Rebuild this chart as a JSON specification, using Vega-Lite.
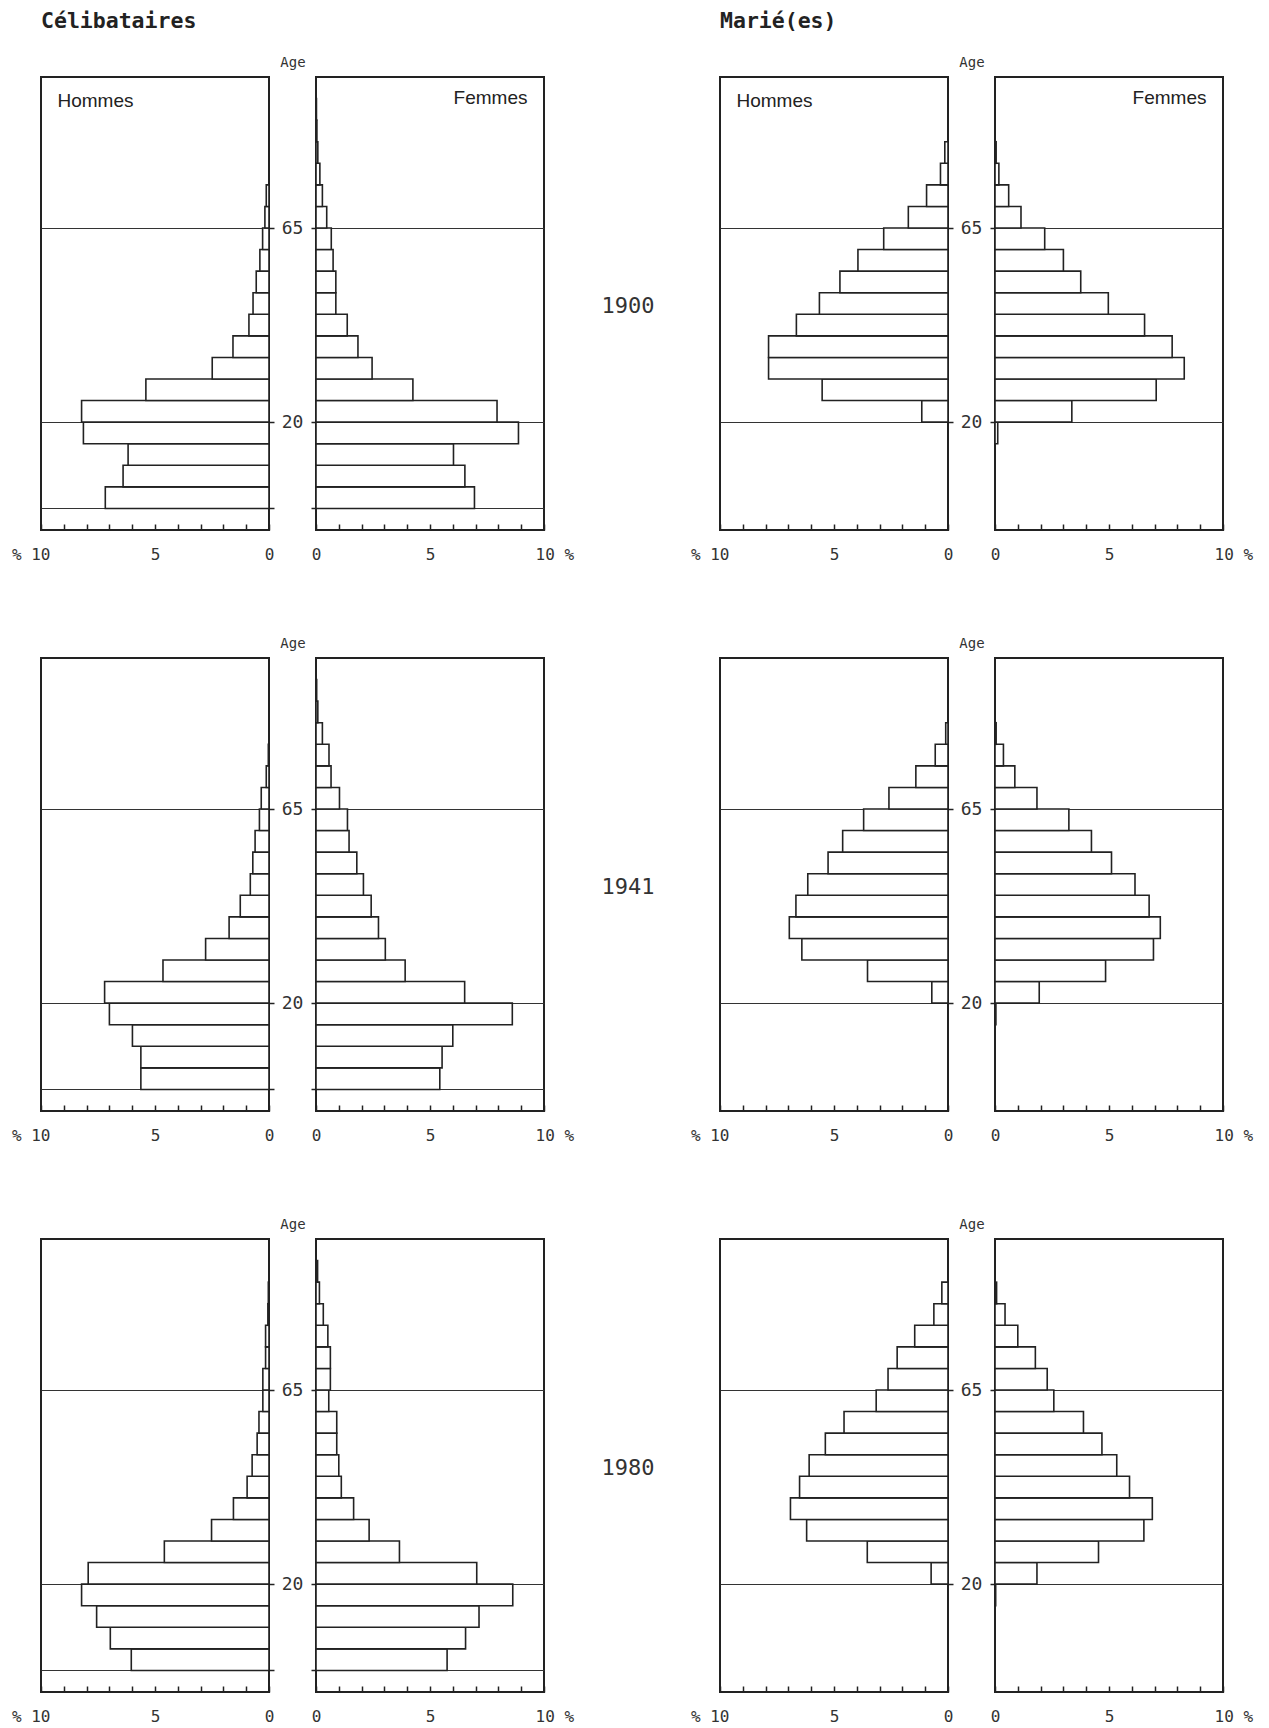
{
  "$schema": "https://vega.github.io/schema/vega-lite/v6.json",
  "background": "white",
  "padding": {"left": 10, "top": 9, "right": 5, "bottom": 5},
  "datasets": {
    "C1900H": [{"age":0,"age_end":5,"pct":7.18},{"age":5,"age_end":10,"pct":6.40},{"age":10,"age_end":15,"pct":6.18},{"age":15,"age_end":20,"pct":8.14},{"age":20,"age_end":25,"pct":8.22},{"age":25,"age_end":30,"pct":5.40},{"age":30,"age_end":35,"pct":2.49},{"age":35,"age_end":40,"pct":1.58},{"age":40,"age_end":45,"pct":0.88},{"age":45,"age_end":50,"pct":0.70},{"age":50,"age_end":55,"pct":0.56},{"age":55,"age_end":60,"pct":0.40},{"age":60,"age_end":65,"pct":0.28},{"age":65,"age_end":70,"pct":0.18},{"age":70,"age_end":75,"pct":0.12}],
    "C1900F": [{"age":0,"age_end":5,"pct":6.95},{"age":5,"age_end":10,"pct":6.53},{"age":10,"age_end":15,"pct":6.03},{"age":15,"age_end":20,"pct":8.88},{"age":20,"age_end":25,"pct":7.94},{"age":25,"age_end":30,"pct":4.25},{"age":30,"age_end":35,"pct":2.46},{"age":35,"age_end":40,"pct":1.84},{"age":40,"age_end":45,"pct":1.37},{"age":45,"age_end":50,"pct":0.87},{"age":50,"age_end":55,"pct":0.87},{"age":55,"age_end":60,"pct":0.75},{"age":60,"age_end":65,"pct":0.67},{"age":65,"age_end":70,"pct":0.47},{"age":70,"age_end":75,"pct":0.28},{"age":75,"age_end":80,"pct":0.17},{"age":80,"age_end":85,"pct":0.08},{"age":85,"age_end":90,"pct":0.04},{"age":90,"age_end":95,"pct":0.02}],
    "M1900H": [{"age":20,"age_end":25,"pct":1.15},{"age":25,"age_end":30,"pct":5.52},{"age":30,"age_end":35,"pct":7.87},{"age":35,"age_end":40,"pct":7.87},{"age":40,"age_end":45,"pct":6.65},{"age":45,"age_end":50,"pct":5.64},{"age":50,"age_end":55,"pct":4.74},{"age":55,"age_end":60,"pct":3.95},{"age":60,"age_end":65,"pct":2.82},{"age":65,"age_end":70,"pct":1.74},{"age":70,"age_end":75,"pct":0.94},{"age":75,"age_end":80,"pct":0.33},{"age":80,"age_end":85,"pct":0.14}],
    "M1900F": [{"age":15,"age_end":20,"pct":0.12},{"age":20,"age_end":25,"pct":3.37},{"age":25,"age_end":30,"pct":7.07},{"age":30,"age_end":35,"pct":8.30},{"age":35,"age_end":40,"pct":7.77},{"age":40,"age_end":45,"pct":6.56},{"age":45,"age_end":50,"pct":4.97},{"age":50,"age_end":55,"pct":3.76},{"age":55,"age_end":60,"pct":3.00},{"age":60,"age_end":65,"pct":2.18},{"age":65,"age_end":70,"pct":1.14},{"age":70,"age_end":75,"pct":0.60},{"age":75,"age_end":80,"pct":0.17},{"age":80,"age_end":85,"pct":0.05}],
    "C1941H": [{"age":0,"age_end":5,"pct":5.62},{"age":5,"age_end":10,"pct":5.62},{"age":10,"age_end":15,"pct":5.99},{"age":15,"age_end":20,"pct":7.00},{"age":20,"age_end":25,"pct":7.21},{"age":25,"age_end":30,"pct":4.65},{"age":30,"age_end":35,"pct":2.78},{"age":35,"age_end":40,"pct":1.75},{"age":40,"age_end":45,"pct":1.26},{"age":45,"age_end":50,"pct":0.82},{"age":50,"age_end":55,"pct":0.71},{"age":55,"age_end":60,"pct":0.61},{"age":60,"age_end":65,"pct":0.42},{"age":65,"age_end":70,"pct":0.34},{"age":70,"age_end":75,"pct":0.12},{"age":75,"age_end":80,"pct":0.03}],
    "C1941F": [{"age":0,"age_end":5,"pct":5.43},{"age":5,"age_end":10,"pct":5.53},{"age":10,"age_end":15,"pct":6.00},{"age":15,"age_end":20,"pct":8.61},{"age":20,"age_end":25,"pct":6.52},{"age":25,"age_end":30,"pct":3.91},{"age":30,"age_end":35,"pct":3.04},{"age":35,"age_end":40,"pct":2.74},{"age":40,"age_end":45,"pct":2.42},{"age":45,"age_end":50,"pct":2.08},{"age":50,"age_end":55,"pct":1.79},{"age":55,"age_end":60,"pct":1.45},{"age":60,"age_end":65,"pct":1.38},{"age":65,"age_end":70,"pct":1.03},{"age":70,"age_end":75,"pct":0.66},{"age":75,"age_end":80,"pct":0.57},{"age":80,"age_end":85,"pct":0.28},{"age":85,"age_end":90,"pct":0.08},{"age":90,"age_end":95,"pct":0.03}],
    "M1941H": [{"age":20,"age_end":25,"pct":0.71},{"age":25,"age_end":30,"pct":3.53},{"age":30,"age_end":35,"pct":6.41},{"age":35,"age_end":40,"pct":6.96},{"age":40,"age_end":45,"pct":6.67},{"age":45,"age_end":50,"pct":6.15},{"age":50,"age_end":55,"pct":5.26},{"age":55,"age_end":60,"pct":4.62},{"age":60,"age_end":65,"pct":3.70},{"age":65,"age_end":70,"pct":2.59},{"age":70,"age_end":75,"pct":1.41},{"age":75,"age_end":80,"pct":0.56},{"age":80,"age_end":85,"pct":0.10}],
    "M1941F": [{"age":15,"age_end":20,"pct":0.04},{"age":20,"age_end":25,"pct":1.94},{"age":25,"age_end":30,"pct":4.85},{"age":30,"age_end":35,"pct":6.95},{"age":35,"age_end":40,"pct":7.25},{"age":40,"age_end":45,"pct":6.76},{"age":45,"age_end":50,"pct":6.14},{"age":50,"age_end":55,"pct":5.11},{"age":55,"age_end":60,"pct":4.23},{"age":60,"age_end":65,"pct":3.24},{"age":65,"age_end":70,"pct":1.84},{"age":70,"age_end":75,"pct":0.87},{"age":75,"age_end":80,"pct":0.37},{"age":80,"age_end":85,"pct":0.05}],
    "C1980H": [{"age":0,"age_end":5,"pct":6.04},{"age":5,"age_end":10,"pct":6.96},{"age":10,"age_end":15,"pct":7.56},{"age":15,"age_end":20,"pct":8.22},{"age":20,"age_end":25,"pct":7.93},{"age":25,"age_end":30,"pct":4.59},{"age":30,"age_end":35,"pct":2.52},{"age":35,"age_end":40,"pct":1.56},{"age":40,"age_end":45,"pct":0.96},{"age":45,"age_end":50,"pct":0.74},{"age":50,"age_end":55,"pct":0.52},{"age":55,"age_end":60,"pct":0.44},{"age":60,"age_end":65,"pct":0.27},{"age":65,"age_end":70,"pct":0.27},{"age":70,"age_end":75,"pct":0.15},{"age":75,"age_end":80,"pct":0.15},{"age":80,"age_end":85,"pct":0.05},{"age":85,"age_end":90,"pct":0.03}],
    "C1980F": [{"age":0,"age_end":5,"pct":5.75},{"age":5,"age_end":10,"pct":6.56},{"age":10,"age_end":15,"pct":7.15},{"age":15,"age_end":20,"pct":8.63},{"age":20,"age_end":25,"pct":7.05},{"age":25,"age_end":30,"pct":3.66},{"age":30,"age_end":35,"pct":2.33},{"age":35,"age_end":40,"pct":1.65},{"age":40,"age_end":45,"pct":1.11},{"age":45,"age_end":50,"pct":1.00},{"age":50,"age_end":55,"pct":0.91},{"age":55,"age_end":60,"pct":0.91},{"age":60,"age_end":65,"pct":0.56},{"age":65,"age_end":70,"pct":0.63},{"age":70,"age_end":75,"pct":0.63},{"age":75,"age_end":80,"pct":0.52},{"age":80,"age_end":85,"pct":0.32},{"age":85,"age_end":90,"pct":0.15},{"age":90,"age_end":95,"pct":0.07}],
    "M1980H": [{"age":20,"age_end":25,"pct":0.74},{"age":25,"age_end":30,"pct":3.54},{"age":30,"age_end":35,"pct":6.20},{"age":35,"age_end":40,"pct":6.91},{"age":40,"age_end":45,"pct":6.51},{"age":45,"age_end":50,"pct":6.09},{"age":50,"age_end":55,"pct":5.38},{"age":55,"age_end":60,"pct":4.56},{"age":60,"age_end":65,"pct":3.15},{"age":65,"age_end":70,"pct":2.63},{"age":70,"age_end":75,"pct":2.23},{"age":75,"age_end":80,"pct":1.46},{"age":80,"age_end":85,"pct":0.62},{"age":85,"age_end":90,"pct":0.27}],
    "M1980F": [{"age":15,"age_end":20,"pct":0.03},{"age":20,"age_end":25,"pct":1.84},{"age":25,"age_end":30,"pct":4.54},{"age":30,"age_end":35,"pct":6.53},{"age":35,"age_end":40,"pct":6.90},{"age":40,"age_end":45,"pct":5.90},{"age":45,"age_end":50,"pct":5.34},{"age":50,"age_end":55,"pct":4.69},{"age":55,"age_end":60,"pct":3.88},{"age":60,"age_end":65,"pct":2.58},{"age":65,"age_end":70,"pct":2.29},{"age":70,"age_end":75,"pct":1.77},{"age":75,"age_end":80,"pct":1.00},{"age":80,"age_end":85,"pct":0.44},{"age":85,"age_end":90,"pct":0.07}]
  },
  "concat": [
    {
      "width": 228, "height": 453,
      "data": {"name": "C1900H"},
      "title": {"text": "Célibataires", "anchor": "start", "frame": "group", "font": "DejaVu Sans Mono", "fontSize": 21.5, "fontWeight": "bold", "color": "#222", "baseline": "alphabetic", "offset": 28},
      "resolve": {"axis": {"x": "independent"}},
      "layer": [
        {
          "mark": {"type": "rect", "fill": "white", "stroke": "#222", "strokeWidth": 1.6},
          "encoding": {
            "y": {"field": "age", "type": "quantitative", "scale": {"domain": [-5, 100], "nice": false, "zero": false}, "axis": {"orient": "right", "values": [0, 20, 65], "grid": true, "tickSize": 5, "labelExpr": "datum.value == 0 ? '' : datum.label", "labelAlign": "center", "labelPadding": 18, "labelFontSize": 18, "title": null}},
            "y2": {"field": "age_end"},
            "x": {"field": "pct", "type": "quantitative", "scale": {"domain": [0, 10], "reverse": true, "nice": false}, "axis": {"orient": "bottom", "values": [0,1,2,3,4,5,6,7,8,9,10], "tickSize": -6, "labelExpr": "datum.value == 10 ? '% 10' : (datum.value == 5 || datum.value == 0) ? datum.label : ''", "labelAlign": {"condition": {"test": "datum.value == 10", "value": "right"}, "value": "center"}, "labelOffset": {"condition": {"test": "datum.value == 10", "value": 9}, "value": 0}, "labelPadding": 22, "title": null}},
            "x2": {"datum": 0}
          }
        },
        {
          "mark": {"type": "rule", "opacity": 0},
          "encoding": {"x": {"datum": 0, "type": "quantitative", "axis": {"orient": "top", "ticks": false, "labels": false, "title": "Hommes", "titleX": 16, "titleY": 23, "titleAlign": "left", "titleBaseline": "middle", "titleAngle": 0, "titleFont": "Liberation Sans", "titleFontSize": 19, "titleColor": "#222"}}}
        }
      ]
    },
    {
      "width": 228, "height": 453,
      "data": {"name": "C1900F"},
      "resolve": {"axis": {"x": "independent"}},
      "layer": [
        {
          "mark": {"type": "rect", "fill": "white", "stroke": "#222", "strokeWidth": 1.6},
          "encoding": {
            "y": {"field": "age", "type": "quantitative", "scale": {"domain": [-5, 100], "nice": false, "zero": false}, "axis": {"orient": "left", "values": [0, 20, 65], "grid": true, "tickSize": 5, "labels": false, "title": "Age", "titleAngle": 0, "titleX": -23.5, "titleY": -11, "titleAlign": "center", "titleBaseline": "alphabetic", "titleFontSize": 14}},
            "y2": {"field": "age_end"},
            "x": {"field": "pct", "type": "quantitative", "scale": {"domain": [0, 10], "nice": false}, "axis": {"orient": "bottom", "values": [0,1,2,3,4,5,6,7,8,9,10], "tickSize": -6, "labelExpr": "datum.value == 10 ? '10 %' : (datum.value == 5 || datum.value == 0) ? datum.label : ''", "labelAlign": {"condition": {"test": "datum.value == 10", "value": "left"}, "value": "center"}, "labelOffset": {"condition": {"test": "datum.value == 10", "value": -9}, "value": 0}, "labelPadding": 22, "title": null}},
            "x2": {"datum": 0}
          }
        },
        {
          "mark": {"type": "rule", "opacity": 0},
          "encoding": {"x": {"datum": 0, "type": "quantitative", "axis": {"orient": "top", "ticks": false, "labels": false, "title": "Femmes", "titleX": 211, "titleY": 20, "titleAlign": "right", "titleBaseline": "middle", "titleAngle": 0, "titleFont": "Liberation Sans", "titleFontSize": 19, "titleColor": "#222"}}}
        }
      ]
    },
    {
      "width": 82, "height": 453,
      "view": {"stroke": null},
      "data": {"values": [{"year": "1900"}]},
      "mark": {"type": "text", "font": "DejaVu Sans Mono", "fontSize": 22, "color": "#333", "dx": -4, "dy": 2},
      "encoding": {"text": {"field": "year"}}
    },
    {
      "width": 228, "height": 453,
      "data": {"name": "M1900H"},
      "title": {"text": "Marié(es)", "anchor": "start", "frame": "group", "font": "DejaVu Sans Mono", "fontSize": 21.5, "fontWeight": "bold", "color": "#222", "baseline": "alphabetic", "offset": 28},
      "resolve": {"axis": {"x": "independent"}},
      "layer": [
        {
          "mark": {"type": "rect", "fill": "white", "stroke": "#222", "strokeWidth": 1.6},
          "encoding": {
            "y": {"field": "age", "type": "quantitative", "scale": {"domain": [-5, 100], "nice": false, "zero": false}, "axis": {"orient": "right", "values": [20, 65], "grid": true, "tickSize": 5, "labelAlign": "center", "labelPadding": 18, "labelFontSize": 18, "title": null}},
            "y2": {"field": "age_end"},
            "x": {"field": "pct", "type": "quantitative", "scale": {"domain": [0, 10], "reverse": true, "nice": false}, "axis": {"orient": "bottom", "values": [0,1,2,3,4,5,6,7,8,9,10], "tickSize": -6, "labelExpr": "datum.value == 10 ? '% 10' : (datum.value == 5 || datum.value == 0) ? datum.label : ''", "labelAlign": {"condition": {"test": "datum.value == 10", "value": "right"}, "value": "center"}, "labelOffset": {"condition": {"test": "datum.value == 10", "value": 9}, "value": 0}, "labelPadding": 22, "title": null}},
            "x2": {"datum": 0}
          }
        },
        {
          "mark": {"type": "rule", "opacity": 0},
          "encoding": {"x": {"datum": 0, "type": "quantitative", "axis": {"orient": "top", "ticks": false, "labels": false, "title": "Hommes", "titleX": 16, "titleY": 23, "titleAlign": "left", "titleBaseline": "middle", "titleAngle": 0, "titleFont": "Liberation Sans", "titleFontSize": 19, "titleColor": "#222"}}}
        }
      ]
    },
    {
      "width": 228, "height": 453,
      "data": {"name": "M1900F"},
      "resolve": {"axis": {"x": "independent"}},
      "layer": [
        {
          "mark": {"type": "rect", "fill": "white", "stroke": "#222", "strokeWidth": 1.6},
          "encoding": {
            "y": {"field": "age", "type": "quantitative", "scale": {"domain": [-5, 100], "nice": false, "zero": false}, "axis": {"orient": "left", "values": [20, 65], "grid": true, "tickSize": 5, "labels": false, "title": "Age", "titleAngle": 0, "titleX": -23.5, "titleY": -11, "titleAlign": "center", "titleBaseline": "alphabetic", "titleFontSize": 14}},
            "y2": {"field": "age_end"},
            "x": {"field": "pct", "type": "quantitative", "scale": {"domain": [0, 10], "nice": false}, "axis": {"orient": "bottom", "values": [0,1,2,3,4,5,6,7,8,9,10], "tickSize": -6, "labelExpr": "datum.value == 10 ? '10 %' : (datum.value == 5 || datum.value == 0) ? datum.label : ''", "labelAlign": {"condition": {"test": "datum.value == 10", "value": "left"}, "value": "center"}, "labelOffset": {"condition": {"test": "datum.value == 10", "value": -9}, "value": 0}, "labelPadding": 22, "title": null}},
            "x2": {"datum": 0}
          }
        },
        {
          "mark": {"type": "rule", "opacity": 0},
          "encoding": {"x": {"datum": 0, "type": "quantitative", "axis": {"orient": "top", "ticks": false, "labels": false, "title": "Femmes", "titleX": 211, "titleY": 20, "titleAlign": "right", "titleBaseline": "middle", "titleAngle": 0, "titleFont": "Liberation Sans", "titleFontSize": 19, "titleColor": "#222"}}}
        }
      ]
    },
    {
      "width": 228, "height": 453,
      "data": {"name": "C1941H"},
      "mark": {"type": "rect", "fill": "white", "stroke": "#222", "strokeWidth": 1.6},
      "encoding": {
        "y": {"field": "age", "type": "quantitative", "scale": {"domain": [-5, 100], "nice": false, "zero": false}, "axis": {"orient": "right", "values": [0, 20, 65], "grid": true, "tickSize": 5, "labelExpr": "datum.value == 0 ? '' : datum.label", "labelAlign": "center", "labelPadding": 18, "labelFontSize": 18, "title": null}},
        "y2": {"field": "age_end"},
        "x": {"field": "pct", "type": "quantitative", "scale": {"domain": [0, 10], "reverse": true, "nice": false}, "axis": {"orient": "bottom", "values": [0,1,2,3,4,5,6,7,8,9,10], "tickSize": -6, "labelExpr": "datum.value == 10 ? '% 10' : (datum.value == 5 || datum.value == 0) ? datum.label : ''", "labelAlign": {"condition": {"test": "datum.value == 10", "value": "right"}, "value": "center"}, "labelOffset": {"condition": {"test": "datum.value == 10", "value": 9}, "value": 0}, "labelPadding": 22, "title": null}},
        "x2": {"datum": 0}
      }
    },
    {
      "width": 228, "height": 453,
      "data": {"name": "C1941F"},
      "mark": {"type": "rect", "fill": "white", "stroke": "#222", "strokeWidth": 1.6},
      "encoding": {
        "y": {"field": "age", "type": "quantitative", "scale": {"domain": [-5, 100], "nice": false, "zero": false}, "axis": {"orient": "left", "values": [0, 20, 65], "grid": true, "tickSize": 5, "labels": false, "title": "Age", "titleAngle": 0, "titleX": -23.5, "titleY": -11, "titleAlign": "center", "titleBaseline": "alphabetic", "titleFontSize": 14}},
        "y2": {"field": "age_end"},
        "x": {"field": "pct", "type": "quantitative", "scale": {"domain": [0, 10], "nice": false}, "axis": {"orient": "bottom", "values": [0,1,2,3,4,5,6,7,8,9,10], "tickSize": -6, "labelExpr": "datum.value == 10 ? '10 %' : (datum.value == 5 || datum.value == 0) ? datum.label : ''", "labelAlign": {"condition": {"test": "datum.value == 10", "value": "left"}, "value": "center"}, "labelOffset": {"condition": {"test": "datum.value == 10", "value": -9}, "value": 0}, "labelPadding": 22, "title": null}},
        "x2": {"datum": 0}
      }
    },
    {
      "width": 82, "height": 453,
      "view": {"stroke": null},
      "data": {"values": [{"year": "1941"}]},
      "mark": {"type": "text", "font": "DejaVu Sans Mono", "fontSize": 22, "color": "#333", "dx": -4, "dy": 2},
      "encoding": {"text": {"field": "year"}}
    },
    {
      "width": 228, "height": 453,
      "data": {"name": "M1941H"},
      "mark": {"type": "rect", "fill": "white", "stroke": "#222", "strokeWidth": 1.6},
      "encoding": {
        "y": {"field": "age", "type": "quantitative", "scale": {"domain": [-5, 100], "nice": false, "zero": false}, "axis": {"orient": "right", "values": [20, 65], "grid": true, "tickSize": 5, "labelAlign": "center", "labelPadding": 18, "labelFontSize": 18, "title": null}},
        "y2": {"field": "age_end"},
        "x": {"field": "pct", "type": "quantitative", "scale": {"domain": [0, 10], "reverse": true, "nice": false}, "axis": {"orient": "bottom", "values": [0,1,2,3,4,5,6,7,8,9,10], "tickSize": -6, "labelExpr": "datum.value == 10 ? '% 10' : (datum.value == 5 || datum.value == 0) ? datum.label : ''", "labelAlign": {"condition": {"test": "datum.value == 10", "value": "right"}, "value": "center"}, "labelOffset": {"condition": {"test": "datum.value == 10", "value": 9}, "value": 0}, "labelPadding": 22, "title": null}},
        "x2": {"datum": 0}
      }
    },
    {
      "width": 228, "height": 453,
      "data": {"name": "M1941F"},
      "mark": {"type": "rect", "fill": "white", "stroke": "#222", "strokeWidth": 1.6},
      "encoding": {
        "y": {"field": "age", "type": "quantitative", "scale": {"domain": [-5, 100], "nice": false, "zero": false}, "axis": {"orient": "left", "values": [20, 65], "grid": true, "tickSize": 5, "labels": false, "title": "Age", "titleAngle": 0, "titleX": -23.5, "titleY": -11, "titleAlign": "center", "titleBaseline": "alphabetic", "titleFontSize": 14}},
        "y2": {"field": "age_end"},
        "x": {"field": "pct", "type": "quantitative", "scale": {"domain": [0, 10], "nice": false}, "axis": {"orient": "bottom", "values": [0,1,2,3,4,5,6,7,8,9,10], "tickSize": -6, "labelExpr": "datum.value == 10 ? '10 %' : (datum.value == 5 || datum.value == 0) ? datum.label : ''", "labelAlign": {"condition": {"test": "datum.value == 10", "value": "left"}, "value": "center"}, "labelOffset": {"condition": {"test": "datum.value == 10", "value": -9}, "value": 0}, "labelPadding": 22, "title": null}},
        "x2": {"datum": 0}
      }
    },
    {
      "width": 228, "height": 453,
      "data": {"name": "C1980H"},
      "mark": {"type": "rect", "fill": "white", "stroke": "#222", "strokeWidth": 1.6},
      "encoding": {
        "y": {"field": "age", "type": "quantitative", "scale": {"domain": [-5, 100], "nice": false, "zero": false}, "axis": {"orient": "right", "values": [0, 20, 65], "grid": true, "tickSize": 5, "labelExpr": "datum.value == 0 ? '' : datum.label", "labelAlign": "center", "labelPadding": 18, "labelFontSize": 18, "title": null}},
        "y2": {"field": "age_end"},
        "x": {"field": "pct", "type": "quantitative", "scale": {"domain": [0, 10], "reverse": true, "nice": false}, "axis": {"orient": "bottom", "values": [0,1,2,3,4,5,6,7,8,9,10], "tickSize": -6, "labelExpr": "datum.value == 10 ? '% 10' : (datum.value == 5 || datum.value == 0) ? datum.label : ''", "labelAlign": {"condition": {"test": "datum.value == 10", "value": "right"}, "value": "center"}, "labelOffset": {"condition": {"test": "datum.value == 10", "value": 9}, "value": 0}, "labelPadding": 22, "title": null}},
        "x2": {"datum": 0}
      }
    },
    {
      "width": 228, "height": 453,
      "data": {"name": "C1980F"},
      "mark": {"type": "rect", "fill": "white", "stroke": "#222", "strokeWidth": 1.6},
      "encoding": {
        "y": {"field": "age", "type": "quantitative", "scale": {"domain": [-5, 100], "nice": false, "zero": false}, "axis": {"orient": "left", "values": [0, 20, 65], "grid": true, "tickSize": 5, "labels": false, "title": "Age", "titleAngle": 0, "titleX": -23.5, "titleY": -11, "titleAlign": "center", "titleBaseline": "alphabetic", "titleFontSize": 14}},
        "y2": {"field": "age_end"},
        "x": {"field": "pct", "type": "quantitative", "scale": {"domain": [0, 10], "nice": false}, "axis": {"orient": "bottom", "values": [0,1,2,3,4,5,6,7,8,9,10], "tickSize": -6, "labelExpr": "datum.value == 10 ? '10 %' : (datum.value == 5 || datum.value == 0) ? datum.label : ''", "labelAlign": {"condition": {"test": "datum.value == 10", "value": "left"}, "value": "center"}, "labelOffset": {"condition": {"test": "datum.value == 10", "value": -9}, "value": 0}, "labelPadding": 22, "title": null}},
        "x2": {"datum": 0}
      }
    },
    {
      "width": 82, "height": 453,
      "view": {"stroke": null},
      "data": {"values": [{"year": "1980"}]},
      "mark": {"type": "text", "font": "DejaVu Sans Mono", "fontSize": 22, "color": "#333", "dx": -4, "dy": 2},
      "encoding": {"text": {"field": "year"}}
    },
    {
      "width": 228, "height": 453,
      "data": {"name": "M1980H"},
      "mark": {"type": "rect", "fill": "white", "stroke": "#222", "strokeWidth": 1.6},
      "encoding": {
        "y": {"field": "age", "type": "quantitative", "scale": {"domain": [-5, 100], "nice": false, "zero": false}, "axis": {"orient": "right", "values": [20, 65], "grid": true, "tickSize": 5, "labelAlign": "center", "labelPadding": 18, "labelFontSize": 18, "title": null}},
        "y2": {"field": "age_end"},
        "x": {"field": "pct", "type": "quantitative", "scale": {"domain": [0, 10], "reverse": true, "nice": false}, "axis": {"orient": "bottom", "values": [0,1,2,3,4,5,6,7,8,9,10], "tickSize": -6, "labelExpr": "datum.value == 10 ? '% 10' : (datum.value == 5 || datum.value == 0) ? datum.label : ''", "labelAlign": {"condition": {"test": "datum.value == 10", "value": "right"}, "value": "center"}, "labelOffset": {"condition": {"test": "datum.value == 10", "value": 9}, "value": 0}, "labelPadding": 22, "title": null}},
        "x2": {"datum": 0}
      }
    },
    {
      "width": 228, "height": 453,
      "data": {"name": "M1980F"},
      "mark": {"type": "rect", "fill": "white", "stroke": "#222", "strokeWidth": 1.6},
      "encoding": {
        "y": {"field": "age", "type": "quantitative", "scale": {"domain": [-5, 100], "nice": false, "zero": false}, "axis": {"orient": "left", "values": [20, 65], "grid": true, "tickSize": 5, "labels": false, "title": "Age", "titleAngle": 0, "titleX": -23.5, "titleY": -11, "titleAlign": "center", "titleBaseline": "alphabetic", "titleFontSize": 14}},
        "y2": {"field": "age_end"},
        "x": {"field": "pct", "type": "quantitative", "scale": {"domain": [0, 10], "nice": false}, "axis": {"orient": "bottom", "values": [0,1,2,3,4,5,6,7,8,9,10], "tickSize": -6, "labelExpr": "datum.value == 10 ? '10 %' : (datum.value == 5 || datum.value == 0) ? datum.label : ''", "labelAlign": {"condition": {"test": "datum.value == 10", "value": "left"}, "value": "center"}, "labelOffset": {"condition": {"test": "datum.value == 10", "value": -9}, "value": 0}, "labelPadding": 22, "title": null}},
        "x2": {"datum": 0}
      }
    }
  ],
  "columns": 5,
  "spacing": {"row": 128, "column": 47},
  "bounds": "flush",
  "config": {
    "view": {"stroke": "#222", "strokeWidth": 2},
    "axis": {
      "domain": false,
      "grid": false,
      "labelFont": "DejaVu Sans Mono",
      "labelFontSize": 16,
      "labelColor": "#333",
      "labelFlush": false,
      "labelOverlap": false,
      "labelBound": false,
      "tickColor": "#222",
      "tickWidth": 1.5,
      "gridColor": "#333",
      "gridWidth": 1,
      "titleFont": "DejaVu Sans Mono",
      "titleFontWeight": "normal",
      "titleColor": "#333"
    }
  }
}
